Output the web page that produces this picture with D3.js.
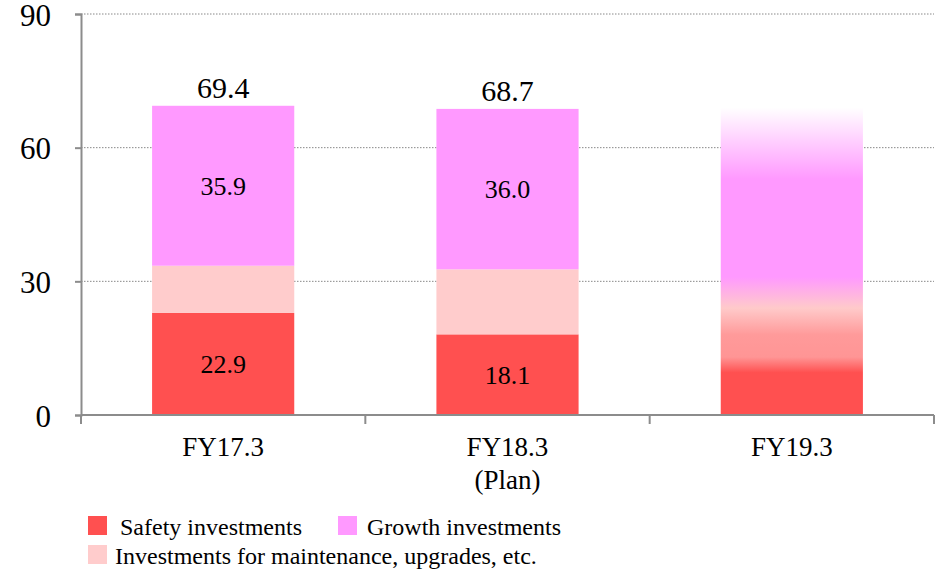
<!DOCTYPE html>
<html>
<head>
<meta charset="utf-8">
<script src="https://cdn.jsdelivr.net/npm/d3@7"></script>
<style>
  body { margin: 0; background: #fff; }
</style>
</head>
<body>
<svg width="936" height="573"></svg>
<script>
// data
let categories = ["FY17.3", "FY18.3", "FY19.3"]
let subLabels = ["", "(Plan)", ""]
let safety = [22.9, 18.1]
let maintenance = [10.6, 14.6]
let growth = [35.9, 36.0]
let totals = [69.4, 68.7]
let yTicks = [0, 30, 60, 90]

// FY19.3 is drawn as a faded, undetermined bar
let fy19Stops = [0, 9.5, 13, 18, 24, 31, 53, 69]
let fy19Colors = ["#ff5050", "#ff5050", "#ff9595", "#ff9a9a", "#ffcaca", "#ff99ff", "#ff99ff", "#ffffff"]

let seriesNames = ["Safety investments", "Growth investments", "Investments for maintenance, upgrades, etc."]
let seriesColors = ["#ff5050", "#ff99ff", "#ffcccc"]

const FONT = "'Liberation Serif', Tinos, serif"

let svg = d3.select("svg")
let mLeft = 81, mRight = 934, mTop = 14, mBottom = 415

let x = d3.scaleBand().domain(categories).range([mLeft, mRight]).paddingInner(0.5).paddingOuter(0.25)
let y = d3.scaleLinear().domain([0, 90]).range([mBottom, mTop])

// grid lines
svg.append("g")
  .selectAll("line")
  .data(yTicks.filter(d => d > 0))
  .enter().append("line")
  .attr("x1", mLeft).attr("x2", mRight)
  .attr("y1", d => y(d)).attr("y2", d => y(d))
  .attr("stroke", "#888")
  .attr("stroke-width", 1)
  .attr("stroke-dasharray", "1.5,1.5")

// stacked bars
let stackData = categories.slice(0, 2).map((c, i) => ({
  cat: c, safety: safety[i], maintenance: maintenance[i], growth: growth[i]
}))
let stack = d3.stack().keys(["safety", "maintenance", "growth"])(stackData)
let colorOf = { safety: "#ff5050", maintenance: "#ffcccc", growth: "#ff99ff" }

let barG = svg.append("g")
stack.forEach(layer => {
  barG.selectAll(".b-" + layer.key)
    .data(layer)
    .enter().append("rect")
    .attr("x", d => x(d.data.cat))
    .attr("y", d => y(d[1]))
    .attr("width", x.bandwidth())
    .attr("height", d => y(d[0]) - y(d[1]))
    .attr("fill", colorOf[layer.key])
})

// gradient bar for FY19.3
let defs = svg.append("defs")
let maxStop = d3.max(fy19Stops)
let grad = defs.append("linearGradient")
  .attr("id", "fy19")
  .attr("gradientUnits", "userSpaceOnUse")
  .attr("x1", 0).attr("x2", 0)
  .attr("y1", y(0)).attr("y2", y(maxStop))
grad.selectAll("stop")
  .data(fy19Stops)
  .enter().append("stop")
  .attr("offset", d => d / maxStop)
  .attr("stop-color", (d, i) => fy19Colors[i])

barG.append("rect")
  .attr("x", x("FY19.3"))
  .attr("y", y(maxStop))
  .attr("width", x.bandwidth())
  .attr("height", y(0) - y(maxStop))
  .attr("fill", "url(#fy19)")

// labels in bars
let labelG = svg.append("g").attr("text-anchor", "middle")
stackData.forEach((d, i) => {
  let cx = x(d.cat) + x.bandwidth() / 2
  labelG.append("text")
    .attr("x", cx)
    .attr("y", y(d.safety / 2) + 9)
    .style("font-family", FONT)
    .style("font-size", "26px")
    .text(d.safety.toFixed(1))
  let gMid = d.safety + d.maintenance + d.growth / 2
  labelG.append("text")
    .attr("x", cx)
    .attr("y", y(gMid) + 9)
    .style("font-family", FONT)
    .style("font-size", "26px")
    .text(d.growth.toFixed(1))
  labelG.append("text")
    .attr("x", cx)
    .attr("y", y(totals[i]) - 8)
    .style("font-family", FONT)
    .style("font-size", "30px")
    .text(totals[i].toFixed(1))
})

// y axis
let yAxis = svg.append("g")
  .attr("transform", "translate(" + mLeft + ",0)")
  .call(d3.axisLeft(y).tickValues(yTicks).tickSize(6).tickPadding(24))
yAxis.select(".domain").attr("stroke", "#8c8c8c").attr("stroke-width", 2)
yAxis.selectAll(".tick line").attr("stroke", "#8c8c8c").attr("stroke-width", 2)
yAxis.selectAll(".tick text")
  .style("font-family", FONT)
  .style("font-size", "31px")
  .attr("dy", "0.36em")
  .attr("fill", "#000")

// x axis
let edges = categories.map(c => x(c) - x.step() * x.paddingInner() / 2)
edges.push(mRight)
let xAxis = svg.append("g")
xAxis.append("line")
  .attr("x1", mLeft).attr("x2", mRight)
  .attr("y1", mBottom).attr("y2", mBottom)
  .attr("stroke", "#8c8c8c").attr("stroke-width", 2)
xAxis.selectAll(".xt")
  .data(edges)
  .enter().append("line")
  .attr("x1", d => d).attr("x2", d => d)
  .attr("y1", mBottom).attr("y2", mBottom + 9)
  .attr("stroke", "#8c8c8c").attr("stroke-width", 2)
xAxis.selectAll(".xl")
  .data(categories)
  .enter().append("text")
  .attr("x", d => x(d) + x.bandwidth() / 2)
  .attr("y", 456)
  .attr("text-anchor", "middle")
  .style("font-family", FONT)
  .style("font-size", "27px")
  .text(d => d)
xAxis.selectAll(".xs")
  .data(categories)
  .enter().append("text")
  .attr("x", d => x(d) + x.bandwidth() / 2)
  .attr("y", 489)
  .attr("text-anchor", "middle")
  .style("font-family", FONT)
  .style("font-size", "27px")
  .text((d, i) => subLabels[i])

// legend
let legendPos = [[88, 516, 120], [338, 516, 367], [88, 545, 115]]
let legend = svg.append("g")
seriesNames.forEach((name, i) => {
  let p = legendPos[i]
  legend.append("rect")
    .attr("x", p[0]).attr("y", p[1])
    .attr("width", 19).attr("height", 19)
    .attr("fill", seriesColors[i])
  legend.append("text")
    .attr("x", p[2]).attr("y", p[1] + 19)
    .style("font-family", FONT)
    .style("font-size", "24px")
    .text(name)
})
</script>
</body>
</html>
